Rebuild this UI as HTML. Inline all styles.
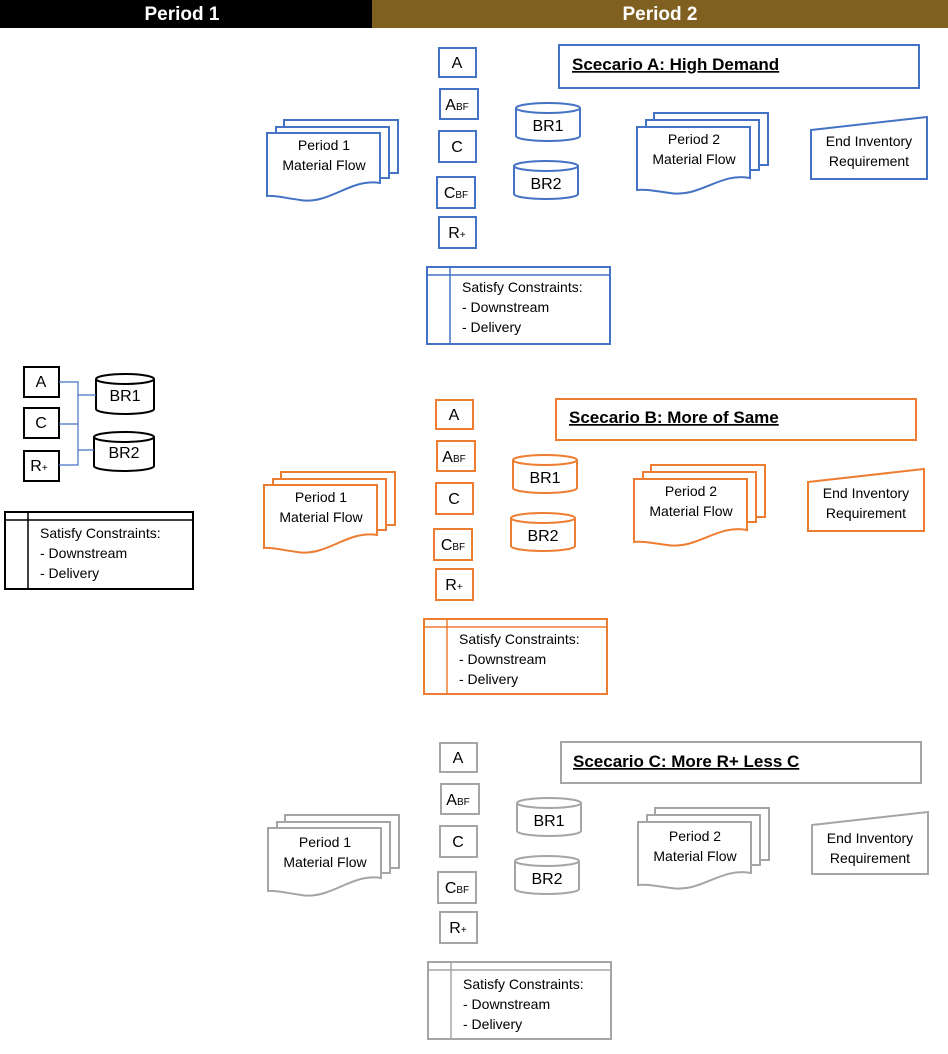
<!DOCTYPE html>
<html><head><meta charset="utf-8"><style>
body{margin:0;background:#fff;}
svg{display:block;font-family:"Liberation Sans",sans-serif;}
text{fill:#000;}
</style></head><body>
<svg width="948" height="1054" viewBox="0 0 948 1054" xmlns="http://www.w3.org/2000/svg">
<rect x="0" y="0" width="372" height="28" fill="#000"/>
<rect x="372" y="0" width="576" height="28" fill="#7f6020"/>
<text x="182" y="20" font-size="19" font-weight="bold" text-anchor="middle" style="fill:#fff">Period 1</text>
<text x="660" y="20" font-size="19" font-weight="bold" text-anchor="middle" style="fill:#fff">Period 2</text>

<!-- Left period 1 -->
<g fill="none" stroke="#000" stroke-width="2">
<rect x="24" y="367" width="35" height="30"/>
<rect x="24" y="408" width="35" height="30"/>
<rect x="24" y="451" width="35" height="30"/>
<path d="M96,379 V409 A29,5 0 0 0 154,409 V379"/><ellipse cx="125" cy="379" rx="29" ry="5"/>
<path d="M94,437 V466 A30,5 0 0 0 154,466 V437"/><ellipse cx="124" cy="437" rx="30" ry="5"/>
<rect x="5" y="512" width="188" height="77"/>
<line x1="5" y1="520" x2="193" y2="520" stroke-width="1.5"/>
<line x1="28" y1="512" x2="28" y2="589" stroke-width="1.5"/>
</g>
<g fill="none" stroke="#4472c4" stroke-width="1.2">
<path d="M59,382 H78 V465 H59 M59,424 H78 M78,395 H96 M78,450 H94"/>
</g>
<g font-size="16" text-anchor="middle">
<text x="41" y="387">A</text><text x="41" y="428">C</text>
<text x="39" y="471">R<tspan font-size="10">+</tspan></text>
<text x="125" y="401">BR1</text><text x="124" y="458">BR2</text>
</g>
<g font-size="14"><text x="40" y="538">Satisfy Constraints:</text><text x="40" y="558">- Downstream</text><text x="40" y="578">- Delivery</text></g>

<!-- Scenario A -->
<g transform="translate(0,0)">
<g fill="#fff" stroke="#4472c4" stroke-width="2">
<rect x="559" y="45" width="360" height="43"/>
<rect x="439" y="48" width="37" height="29"/>
<rect x="440" y="89" width="38" height="30"/>
<rect x="439" y="131" width="37" height="31"/>
<rect x="437" y="177" width="38" height="31"/>
<rect x="439" y="217" width="37" height="31"/>
<path d="M516,108 V136 A32,5 0 0 0 580,136 V108"/><ellipse cx="548" cy="108" rx="32" ry="5"/>
<path d="M514,166 V194 A32,5 0 0 0 578,194 V166"/><ellipse cx="546" cy="166" rx="32" ry="5"/>
<path d="M284,127 V120 H398 V173 H389"/>
<path d="M276,133 V127 H389 V178 H380"/>
<path d="M267,133 H380 V183 C350,178 330,205 300,200 C285,198 275,195 267,196 Z"/>
<path d="M654,120 V113 H768 V165 H759"/>
<path d="M646,127 V120 H759 V170 H750"/>
<path d="M637,127 H750 V178 C720,172 700,198 670,193 C655,191 645,189 637,190 Z"/>
<path d="M811,130 L927,117 V179 H811 Z"/>
<rect x="427" y="267" width="183" height="77"/>
<line x1="427" y1="275" x2="610" y2="275" stroke-width="1.5"/>
<line x1="450" y1="267" x2="450" y2="344" stroke-width="1.5"/>
</g>
<g font-size="16" text-anchor="middle">
<text x="457" y="68">A</text><text x="457" y="110">A<tspan font-size="10">BF</tspan></text>
<text x="457" y="152">C</text><text x="456" y="198">C<tspan font-size="10">BF</tspan></text>
<text x="457" y="238">R<tspan font-size="10">+</tspan></text>
<text x="548" y="131">BR1</text><text x="546" y="189">BR2</text>
</g>
<g font-size="14" text-anchor="middle">
<text x="324" y="150">Period 1</text><text x="324" y="170">Material Flow</text>
<text x="694" y="144">Period 2</text><text x="694" y="164">Material Flow</text>
<text x="869" y="146">End Inventory</text><text x="869" y="166">Requirement</text>
</g>
<g font-size="14"><text x="462" y="292">Satisfy Constraints:</text><text x="462" y="312">- Downstream</text><text x="462" y="332">- Delivery</text></g>
<text x="572" y="70" font-size="17" font-weight="bold" text-decoration="underline">Scecario A: High Demand</text>
</g>

<!-- Scenario B -->
<g transform="translate(-3,352)">
<g fill="#fff" stroke="#ed7d31" stroke-width="2">
<rect x="559" y="47" width="360" height="41"/>
<rect x="439" y="48" width="37" height="29"/>
<rect x="440" y="89" width="38" height="30"/>
<rect x="439" y="131" width="37" height="31"/>
<rect x="437" y="177" width="38" height="31"/>
<rect x="439" y="217" width="37" height="31"/>
<path d="M516,108 V136 A32,5 0 0 0 580,136 V108"/><ellipse cx="548" cy="108" rx="32" ry="5"/>
<path d="M514,166 V194 A32,5 0 0 0 578,194 V166"/><ellipse cx="546" cy="166" rx="32" ry="5"/>
<path d="M284,127 V120 H398 V173 H389"/>
<path d="M276,133 V127 H389 V178 H380"/>
<path d="M267,133 H380 V183 C350,178 330,205 300,200 C285,198 275,195 267,196 Z"/>
<path d="M654,120 V113 H768 V165 H759"/>
<path d="M646,127 V120 H759 V170 H750"/>
<path d="M637,127 H750 V178 C720,172 700,198 670,193 C655,191 645,189 637,190 Z"/>
<path d="M811,130 L927,117 V179 H811 Z"/>
<rect x="427" y="267" width="183" height="75"/>
<line x1="427" y1="275" x2="610" y2="275" stroke-width="1.5"/>
<line x1="450" y1="267" x2="450" y2="342" stroke-width="1.5"/>
</g>
<g font-size="16" text-anchor="middle">
<text x="457" y="68">A</text><text x="457" y="110">A<tspan font-size="10">BF</tspan></text>
<text x="457" y="152">C</text><text x="456" y="198">C<tspan font-size="10">BF</tspan></text>
<text x="457" y="238">R<tspan font-size="10">+</tspan></text>
<text x="548" y="131">BR1</text><text x="546" y="189">BR2</text>
</g>
<g font-size="14" text-anchor="middle">
<text x="324" y="150">Period 1</text><text x="324" y="170">Material Flow</text>
<text x="694" y="144">Period 2</text><text x="694" y="164">Material Flow</text>
<text x="869" y="146">End Inventory</text><text x="869" y="166">Requirement</text>
</g>
<g font-size="14"><text x="462" y="292">Satisfy Constraints:</text><text x="462" y="312">- Downstream</text><text x="462" y="332">- Delivery</text></g>
<text x="572" y="71" font-size="17" font-weight="bold" text-decoration="underline">Scecario B: More of Same</text>
</g>

<!-- Scenario C -->
<g transform="translate(1,695)">
<g fill="#fff" stroke="#a5a5a5" stroke-width="2">
<rect x="560" y="47" width="360" height="41"/>
<rect x="439" y="48" width="37" height="29"/>
<rect x="440" y="89" width="38" height="30"/>
<rect x="439" y="131" width="37" height="31"/>
<rect x="437" y="177" width="38" height="31"/>
<rect x="439" y="217" width="37" height="31"/>
<path d="M516,108 V136 A32,5 0 0 0 580,136 V108"/><ellipse cx="548" cy="108" rx="32" ry="5"/>
<path d="M514,166 V194 A32,5 0 0 0 578,194 V166"/><ellipse cx="546" cy="166" rx="32" ry="5"/>
<path d="M284,127 V120 H398 V173 H389"/>
<path d="M276,133 V127 H389 V178 H380"/>
<path d="M267,133 H380 V183 C350,178 330,205 300,200 C285,198 275,195 267,196 Z"/>
<path d="M654,120 V113 H768 V165 H759"/>
<path d="M646,127 V120 H759 V170 H750"/>
<path d="M637,127 H750 V178 C720,172 700,198 670,193 C655,191 645,189 637,190 Z"/>
<path d="M811,130 L927,117 V179 H811 Z"/>
<rect x="427" y="267" width="183" height="77"/>
<line x1="427" y1="275" x2="610" y2="275" stroke-width="1.5"/>
<line x1="450" y1="267" x2="450" y2="344" stroke-width="1.5"/>
</g>
<g font-size="16" text-anchor="middle">
<text x="457" y="68">A</text><text x="457" y="110">A<tspan font-size="10">BF</tspan></text>
<text x="457" y="152">C</text><text x="456" y="198">C<tspan font-size="10">BF</tspan></text>
<text x="457" y="238">R<tspan font-size="10">+</tspan></text>
<text x="548" y="131">BR1</text><text x="546" y="189">BR2</text>
</g>
<g font-size="14" text-anchor="middle">
<text x="324" y="152">Period 1</text><text x="324" y="172">Material Flow</text>
<text x="694" y="146">Period 2</text><text x="694" y="166">Material Flow</text>
<text x="869" y="148">End Inventory</text><text x="869" y="168">Requirement</text>
</g>
<g font-size="14"><text x="462" y="294">Satisfy Constraints:</text><text x="462" y="314">- Downstream</text><text x="462" y="334">- Delivery</text></g>
<text x="572" y="72" font-size="17" font-weight="bold" text-decoration="underline">Scecario C: More R+ Less C</text>
</g>
</svg>
</body></html>
